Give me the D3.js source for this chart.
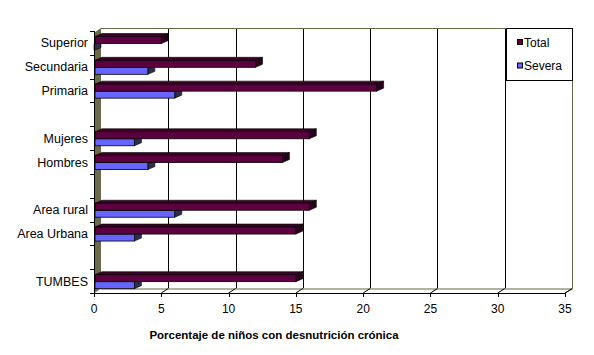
<!DOCTYPE html>
<html>
<head>
<meta charset="utf-8">
<script src="https://cdn.jsdelivr.net/npm/d3@7/dist/d3.min.js"></script>
<style>
html,body{margin:0;padding:0;background:#fff;}
svg{display:block;font-family:"Liberation Sans",Arial,sans-serif;}
</style>
</head>
<body>
<svg id="chart" width="594" height="355"></svg>
<script>
const categories = ["Superior","Secundaria","Primaria","","Mujeres","Hombres"," ","Area rural","Area Urbana","  ","TUMBES"];
const totalValues = [5, 12, 21, null, 16, 14, null, 16, 15, null, 15];
const severaValues = [0, 4, 6, null, 3, 4, null, 6, 3, null, 3];
const seriesNames = ["Total","Severa"];
const xTicks = [0,5,10,15,20,25,30,35];
const axisTitle = "Porcentaje de niños con desnutrición crónica";

const svg = d3.select("#chart");
const x = d3.scaleLinear().domain([0,35]).range([94,565]);
const y = d3.scaleBand().domain(categories).range([31,293]).padding(0);

const dxW = 7, dyW = 4.5;   // wall depth
const dxB = 7, dyB = 3;     // bar depth
const wallTop = 28, backBottom = 293 - dyW, frontBottom = 293;
const olive = "#666644";

const colors = {
  Total: {front:"#5e0040", top:"#3c0029", side:"#2a001c"},
  Severa:{front:"#6666ff", top:"#3a3a80", side:"#2e2e4a"}
};

// back wall
svg.append("rect").attr("x",x(0)+dxW).attr("y",wallTop)
  .attr("width",x(35)-x(0)).attr("height",backBottom-wallTop).attr("fill","#fff");

// gridlines on back wall
svg.append("g").selectAll("line").data(xTicks.filter(v=>v>0 && v<35)).join("line")
  .attr("x1",d=>Math.round(x(d)+dxW)+0.5).attr("x2",d=>Math.round(x(d)+dxW)+0.5)
  .attr("y1",wallTop).attr("y2",backBottom)
  .attr("stroke","#000").attr("stroke-width",1);

// back wall top & right edges
svg.append("path")
  .attr("d",`M${x(0)+dxW},${wallTop+0.5}H${Math.round(x(35)+dxW)+0.5}V${backBottom}`)
  .attr("fill","none").attr("stroke",olive).attr("stroke-width",1);

// floor
svg.append("path")
  .attr("d",`M${x(0)},${frontBottom}L${x(0)+dxW},${backBottom}H${x(35)+dxW}L${x(35)},${frontBottom}Z`)
  .attr("fill","#fff");
svg.append("path")
  .attr("d",`M${x(0)+dxW},${backBottom+0.5}H${Math.round(x(35)+dxW)+0.5}L${x(35)},${frontBottom}`)
  .attr("fill","none").attr("stroke",olive).attr("stroke-width",1);
// floor slant lines at ticks
svg.append("g").selectAll("line").data(xTicks.filter(v=>v>0)).join("line")
  .attr("x1",d=>x(d)).attr("y1",frontBottom)
  .attr("x2",d=>x(d)+dxW).attr("y2",backBottom)
  .attr("stroke","#000").attr("stroke-width",1);

// left wall
svg.append("path")
  .attr("d",`M${x(0)+0.5},${wallTop+dyW}L${x(0)+dxW},${wallTop}V${backBottom}L${x(0)+0.5},${frontBottom}Z`)
  .attr("fill","#6b6b4b");

// bars
const barData = [];
categories.forEach((c,i)=>{
  if (totalValues[i] !== null) {
    barData.push({cat:c, s:"Severa", v:severaValues[i], off:12.5});
    barData.push({cat:c, s:"Total", v:totalValues[i], off:5.5});
  }
});
const bh = 7;
const gBars = svg.append("g");
barData.forEach(d=>{
  const x0 = x(0)+1, x1 = x(d.v);
  const yt = y(d.cat)+d.off, yb = yt+bh;
  const col = colors[d.s];
  const g = gBars.append("g");
  // top face
  g.append("path")
    .attr("d",`M${x0},${yt}L${x0+dxB},${yt-dyB}H${x1+dxB}L${x1},${yt}Z`)
    .attr("fill",col.top).attr("stroke","#000").attr("stroke-width",0.6);
  // side face
  g.append("path")
    .attr("d",`M${x1},${yt}L${x1+dxB},${yt-dyB}V${yb-dyB}L${x1},${yb}Z`)
    .attr("fill",col.side).attr("stroke","#000").attr("stroke-width",0.6);
  // front face
  if (x1 > x0) {
    g.append("rect").attr("x",x0).attr("y",yt).attr("width",x1-x0).attr("height",bh)
      .attr("fill",col.front).attr("stroke","#000").attr("stroke-width",0.8);
  }
});

// front x axis line and ticks
svg.append("line").attr("x1",x(0)).attr("x2",x(35)).attr("y1",frontBottom+0.5).attr("y2",frontBottom+0.5)
  .attr("stroke","#000");
svg.append("g").selectAll("line").data(xTicks).join("line")
  .attr("x1",d=>Math.round(x(d))+0.5).attr("x2",d=>Math.round(x(d))+0.5)
  .attr("y1",frontBottom).attr("y2",frontBottom+4).attr("stroke","#000");
svg.append("g").selectAll("text").data(xTicks).join("text")
  .attr("x",d=>x(d)).attr("y",313).attr("text-anchor","middle")
  .attr("font-size",12).attr("fill","#000").text(d=>d);

// category axis
svg.append("line").attr("x1",x(0)+0.5).attr("x2",x(0)+0.5).attr("y1",y.range()[0]).attr("y2",frontBottom+1)
  .attr("stroke","#000");
const tickYs = categories.map(c=>y(c)).concat([y.range()[1]]);
svg.append("g").selectAll("line").data(tickYs).join("line")
  .attr("x1",x(0)-4).attr("x2",x(0)).attr("y1",d=>Math.round(d)+0.5).attr("y2",d=>Math.round(d)+0.5)
  .attr("stroke","#000");
svg.append("g").selectAll("text").data(categories.filter(c=>c.trim()!=="")).join("text")
  .attr("x",88).attr("y",d=>y(d)+y.bandwidth()/2+4.5).attr("text-anchor","end")
  .attr("font-size",12.5).attr("fill","#000").text(d=>d);

// axis title
svg.append("text").attr("x",274).attr("y",339).attr("text-anchor","middle")
  .attr("font-size",11.5).attr("font-weight","bold").attr("fill","#000").text(axisTitle);

// legend
const lg = svg.append("g");
lg.append("rect").attr("x",506.5).attr("y",28.5).attr("width",66).attr("height",52)
  .attr("fill","#fff").attr("stroke","#000");
seriesNames.forEach((s,i)=>{
  const yy = 40 + i*23.5;
  lg.append("rect").attr("x",517.5).attr("y",yy-0.5).attr("width",5).attr("height",5)
    .attr("fill",colors[s].front).attr("stroke","#000");
  lg.append("text").attr("x",524).attr("y",yy+6.5).attr("font-size",12).attr("fill","#000").text(s);
});
</script>
</body>
</html>
